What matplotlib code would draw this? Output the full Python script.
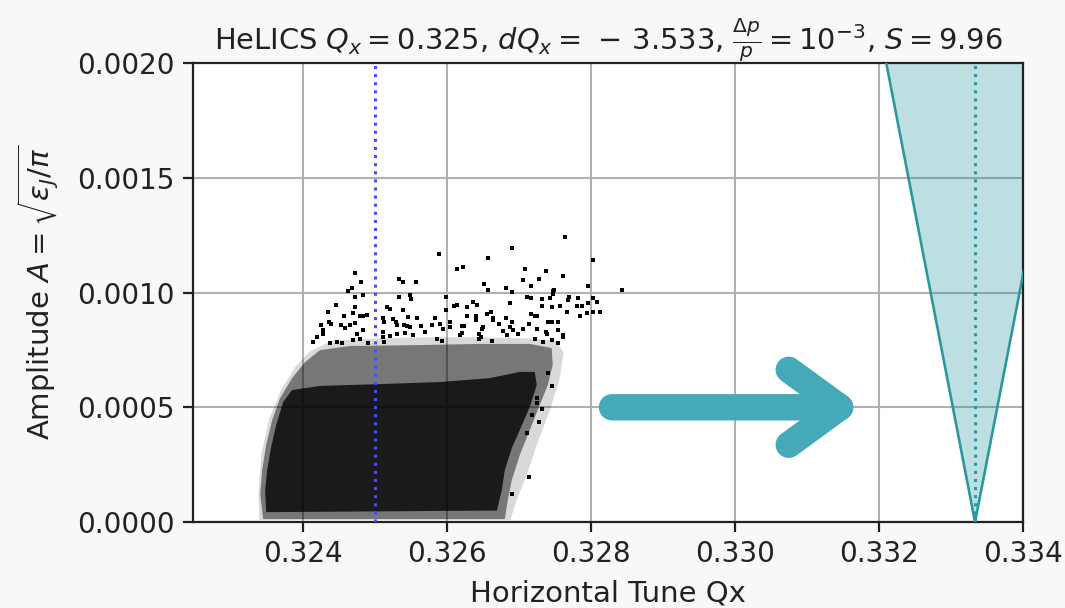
import matplotlib
matplotlib.use("Agg")
import matplotlib.pyplot as plt
import matplotlib.ticker as mticker
from matplotlib.patches import FancyArrowPatch, Polygon, ArrowStyle

# --- values ---
machine = "HeLICS"
q_x = 0.325
dq_x = 3.533  # printed with a leading minus
s_value = 9.96
resonance = 1 / 3

# sparse particles above the dense core (tune, amplitude)
outlier_points = [
    (0.324721, 0.001085), (0.324804, 0.001046), (0.325331, 0.001059), (0.325387, 0.001046),
    (0.325567, 0.001046), (0.324680, 0.001020), (0.324624, 0.001007), (0.324832, 0.000989),
    (0.324721, 0.000980), (0.325331, 0.000980), (0.325484, 0.000989), (0.325498, 0.000972),
    (0.324458, 0.000946), (0.324721, 0.000937), (0.325165, 0.000937), (0.325207, 0.000928),
    (0.325387, 0.000924), (0.324347, 0.000915), (0.324693, 0.000911), (0.324832, 0.000898),
    (0.324888, 0.000902), (0.324569, 0.000898), (0.324361, 0.000871), (0.325110, 0.000889),
    (0.325248, 0.000885), (0.325456, 0.000893), (0.325581, 0.000889), (0.324527, 0.000858),
    (0.324652, 0.000858), (0.324250, 0.000858), (0.324388, 0.000863), (0.324721, 0.000867),
    (0.324791, 0.000898), (0.325123, 0.000871), (0.325290, 0.000871), (0.325304, 0.000858),
    (0.325401, 0.000858), (0.325442, 0.000854), (0.325484, 0.000850), (0.325637, 0.000854),
    (0.324277, 0.000837), (0.324277, 0.000819), (0.324583, 0.000845), (0.324749, 0.000819),
    (0.324832, 0.000837), (0.325110, 0.000828), (0.325304, 0.000819), (0.325415, 0.000824),
    (0.325526, 0.000815), (0.325692, 0.000828), (0.324194, 0.000806), (0.324139, 0.000784),
    (0.324374, 0.000780), (0.324472, 0.000784), (0.324541, 0.000780), (0.324693, 0.000793),
    (0.324791, 0.000797), (0.324902, 0.000780), (0.325110, 0.000806), (0.325123, 0.000784),
    (0.325207, 0.000810),
    (0.327634, 0.001242), (0.326899, 0.001194), (0.325886, 0.001168), (0.326566, 0.001150),
    (0.326136, 0.001102), (0.326219, 0.001111), (0.327079, 0.001102), (0.327370, 0.001094),
    (0.328022, 0.001142), (0.327051, 0.001054), (0.327273, 0.001059), (0.327606, 0.001072),
    (0.326510, 0.001037), (0.326566, 0.001011), (0.326816, 0.001020), (0.326899, 0.001002),
    (0.327162, 0.001028), (0.327481, 0.001011), (0.327467, 0.000993), (0.327953, 0.001028),
    (0.328424, 0.001011), (0.325983, 0.000980), (0.327107, 0.000980), (0.327162, 0.000976),
    (0.327315, 0.000972), (0.327426, 0.000976), (0.327689, 0.000980), (0.327675, 0.000967),
    (0.327814, 0.000976), (0.328022, 0.000976), (0.328078, 0.000959), (0.326358, 0.000959),
    (0.326413, 0.000946), (0.326136, 0.000946), (0.326094, 0.000941), (0.326275, 0.000937),
    (0.326871, 0.000954), (0.327315, 0.000941), (0.327453, 0.000937), (0.327564, 0.000941),
    (0.327800, 0.000941), (0.327870, 0.000941), (0.327953, 0.000954), (0.325983, 0.000924),
    (0.326608, 0.000915), (0.327662, 0.000915), (0.328022, 0.000915), (0.328119, 0.000915),
    (0.327162, 0.000906), (0.327218, 0.000898), (0.327245, 0.000898), (0.327939, 0.000911),
    (0.327842, 0.000898), (0.325831, 0.000889), (0.326275, 0.000898), (0.326399, 0.000898),
    (0.326399, 0.000880), (0.326552, 0.000906), (0.326635, 0.000889), (0.326635, 0.000880),
    (0.326816, 0.000889), (0.327398, 0.000871), (0.327453, 0.000871), (0.327537, 0.000871),
    (0.327135, 0.000863), (0.326899, 0.000871), (0.326039, 0.000871), (0.326039, 0.000850),
    (0.326205, 0.000854), (0.326233, 0.000854), (0.326497, 0.000850), (0.326718, 0.000863),
    (0.326871, 0.000850), (0.327051, 0.000841), (0.327537, 0.000837), (0.325900, 0.000863),
    (0.325942, 0.000841), (0.325789, 0.000858), (0.326483, 0.000841), (0.326774, 0.000832),
    (0.326913, 0.000837), (0.327245, 0.000841), (0.327370, 0.000828), (0.327384, 0.000819),
    (0.327606, 0.000815), (0.327606, 0.000806), (0.326178, 0.000815), (0.326205, 0.000824),
    (0.326441, 0.000819), (0.326469, 0.000806), (0.326829, 0.000815), (0.326982, 0.000819),
    (0.325859, 0.000797), (0.325928, 0.000789), (0.327218, 0.000797), (0.327329, 0.000784),
    (0.327453, 0.000793), (0.327537, 0.000780), (0.326441, 0.000797), (0.326621, 0.000789),
    (0.327135, 0.000196), (0.327273, 0.000436), (0.327315, 0.000492), (0.327453, 0.000593),
    (0.327398, 0.000649), (0.327245, 0.000540), (0.327245, 0.000519), (0.326899, 0.000122),
    (0.327467, 0.001007), (0.327176, 0.000466), (0.327107, 0.000388),
]

# outer fringe, where particles thin out
fringe_tune = [0.323390, 0.323380, 0.323420, 0.323530, 0.323700, 0.323900, 0.324100,
               0.324400, 0.325000, 0.325700, 0.326400, 0.327100, 0.327500, 0.327620,
               0.327560, 0.327420, 0.327250, 0.327100, 0.326960, 0.326880]
fringe_amp = [0.0000087, 0.000130, 0.000300, 0.000450, 0.000580, 0.000680, 0.000745,
              0.000790, 0.000800, 0.000805, 0.000805, 0.000800, 0.000790, 0.000740,
              0.000620, 0.000480, 0.000340, 0.000200, 0.000090, 0.0000087]

# outline of the speckled halo around the core
halo_tune = [0.323445, 0.323404, 0.323431, 0.323487, 0.323570, 0.323681, 0.323847,
             0.324028, 0.324236, 0.324652, 0.325623, 0.326455, 0.327148, 0.327453,
             0.327467, 0.327398, 0.327287, 0.327148, 0.327010, 0.326899, 0.326843,
             0.326802]
halo_amp = [0.0000130, 0.000118, 0.000227, 0.000336, 0.000444, 0.000540, 0.000627,
            0.000697, 0.000749, 0.000767, 0.000771, 0.000776, 0.000776, 0.000758,
            0.000684, 0.000597, 0.000510, 0.000401, 0.000292, 0.000183, 0.0000959,
            0.0000130]

# outline of the dense core of the distribution
core_tune = [0.323487, 0.323473, 0.323501, 0.323556, 0.323626, 0.323723, 0.323847,
             0.324236, 0.325068, 0.325900, 0.326594, 0.327010, 0.327218, 0.327245,
             0.327148, 0.327010, 0.326899, 0.326802, 0.326760, 0.326691]
core_amp = [0.0000430, 0.000139, 0.000227, 0.000327, 0.000423, 0.000523, 0.000575,
            0.000593, 0.000601, 0.000610, 0.000627, 0.000654, 0.000654, 0.000597,
            0.000501, 0.000401, 0.000322, 0.000227, 0.000139, 0.0000500]

# third-order stop band edges
stopband_amp = [0.0, 0.0020]
stopband_left = [resonance, 0.33210]
stopband_right = [resonance, 0.33457]

# arrow pointing at the resonance
arrow_start = (0.32829, 0.0005)
arrow_end = (0.33177, 0.0005)

x_ticks = [0.324, 0.326, 0.328, 0.330, 0.332, 0.334]
y_ticks = [0.0, 0.0005, 0.0010, 0.0015, 0.0020]

teal = "#2A989E"
arrow_color = "#46A9BA"
text_color = "#222222"

plt.rcParams["font.family"] = "DejaVu Sans"
plt.rcParams["font.size"] = 20
plt.rcParams["mathtext.fontset"] = "dejavusans"

fig = plt.figure(figsize=(10.65, 6.08), dpi=100, facecolor="#f8f8f8")
ax = fig.add_axes([0.1812, 0.1414, 0.7794, 0.755])
ax.set_facecolor("white")

ax.grid(True, color="#b0b0b0", linewidth=1.5, zorder=0)
ax.set_axisbelow(True)

# distribution: fringe, halo, core, then sparse particles
ax.add_patch(Polygon(list(zip(fringe_tune, fringe_amp)), closed=True,
                     facecolor="black", alpha=0.15, edgecolor="none", zorder=2))
ax.add_patch(Polygon(list(zip(halo_tune, halo_amp)), closed=True,
                     facecolor="black", alpha=0.45, edgecolor="none", zorder=2))
ax.add_patch(Polygon(list(zip(core_tune, core_amp)), closed=True,
                     facecolor="black", alpha=0.78, edgecolor="none", zorder=2))
out_q = [p[0] for p in outlier_points]
out_a = [p[1] for p in outlier_points]
ax.plot(out_q, out_a, linestyle="none", marker="s", markersize=2.4,
        markeredgewidth=0, color="black", zorder=3)

ax.axvline(q_x, color="#4a4aff", linestyle=":", linewidth=2.2, zorder=4)

# stop band
ax.fill_betweenx(stopband_amp, stopband_left, stopband_right,
                 color=teal, alpha=0.3, linewidth=0, zorder=2)
ax.plot(stopband_left, stopband_amp, color=teal, linewidth=1.9, zorder=3)
ax.plot(stopband_right, stopband_amp, color=teal, linewidth=1.9, zorder=3)
ax.axvline(resonance, color=teal, linestyle=":", linewidth=2.2, zorder=3)

arrow = FancyArrowPatch(arrow_start, arrow_end,
                        arrowstyle=ArrowStyle("->", head_length=3.7, head_width=2.7),
                        mutation_scale=10, linewidth=19, color=arrow_color,
                        capstyle="round", joinstyle="round",
                        shrinkA=0, shrinkB=0, zorder=5)
ax.add_patch(arrow)

ax.set_xlim(0.32247, 0.334)
ax.set_ylim(0, 0.0020)
ax.set_xticks(x_ticks)
ax.set_yticks(y_ticks)
ax.xaxis.set_major_formatter(mticker.FormatStrFormatter("%.3f"))
ax.yaxis.set_major_formatter(mticker.FormatStrFormatter("%.4f"))
ax.tick_params(length=7, width=1.6, pad=6, colors=text_color)
for spine in ax.spines.values():
    spine.set_linewidth(1.6)
    spine.set_color(text_color)

ax.set_xlabel("Horizontal Tune Qx", color=text_color, fontsize=21, labelpad=8)
ax.set_ylabel(r"Amplitude $A = \sqrt{\varepsilon_J / \pi}$", color=text_color,
              fontsize=21, labelpad=12)
ax.set_title(rf"{machine} $Q_x = {q_x}$, $dQ_x =\,-\,{dq_x}$, "
             rf"$\frac{{\Delta p}}{{p}} = 10^{{-3}}$, $S = {s_value}$",
             color=text_color, fontsize=20.8, pad=8)

fig.savefig("out.png", dpi=100, facecolor=fig.get_facecolor())
